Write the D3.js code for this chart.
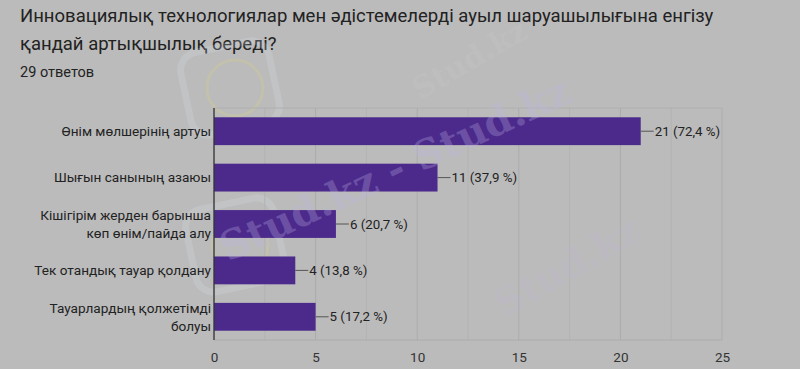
<!DOCTYPE html>
<html>
<head>
<meta charset="utf-8">
<script src="https://cdn.jsdelivr.net/npm/d3@7"></script>
<style>
  html, body { margin: 0; padding: 0; background: #bbbbbb; }
  svg { display: block; font-family: Roboto, "Noto Sans", sans-serif; }
</style>
</head>
<body>
<div class="chart"></div>
<script>
const titleLines = [
  'Инновациялық технологиялар мен әдістемелерді ауыл шаруашылығына енгізу',
  'қандай артықшылық береді?'
];
const responsesText = '29 ответов';

// categories (label lines) and counts
const categories = [
  ['Өнім мөлшерінің артуы'],
  ['Шығын санының азаюы'],
  ['Кішігірім жерден барынша', 'көп өнім/пайда алу'],
  ['Тек отандық тауар қолдану'],
  ['Тауарлардың қолжетімді', 'болуы']
];
const counts = [21, 11, 6, 4, 5];
const percents = ['72,4', '37,9', '20,7', '13,8', '17,2'];
const xTicks = [0, 5, 10, 15, 20, 25];

const width = 800;
const height = 369;
const margin = { top: 108, right: 78, bottom: 29, left: 214 };

const svg = d3
  .select('div.chart')
  .append('svg')
  .attr('width', width)
  .attr('height', height);

svg.append('rect').attr('width', width).attr('height', height).attr('fill', '#bbbbbb');

// title
svg
  .selectAll('text.title')
  .data(titleLines)
  .enter()
  .append('text')
  .attr('class', 'title')
  .attr('x', 20)
  .attr('y', (d, i) => 22 + i * 28)
  .attr('font-size', 18.5)
  .attr('fill', '#222')
  .text((d) => d);

svg
  .append('text')
  .attr('x', 20)
  .attr('y', 77)
  .attr('font-size', 14.5)
  .attr('fill', '#222')
  .text(responsesText);

const x = d3
  .scaleLinear()
  .domain([0, 25])
  .range([margin.left, width - margin.right]);

const y = d3
  .scaleBand()
  .domain(d3.range(categories.length))
  .range([margin.top, height - margin.bottom])
  .paddingInner(0.4)
  .paddingOuter(0.2);

// faint watermark (under the marks' text)
const wm = svg.append('g').attr('pointer-events', 'none');

// gridlines every 2.5
const grid = svg.append('g');
grid
  .selectAll('line')
  .data(d3.range(0, 25.01, 2.5))
  .enter()
  .append('line')
  .attr('x1', (d) => x(d))
  .attr('x2', (d) => x(d))
  .attr('y1', margin.top)
  .attr('y2', height - margin.bottom)
  .attr('stroke', (d) => (d % 5 === 0 ? '#acacac' : '#b3b3b3'))
  .attr('stroke-width', 1);

grid
  .append('line')
  .attr('x1', margin.left)
  .attr('x2', x(25))
  .attr('y1', margin.top)
  .attr('y2', margin.top)
  .attr('stroke', '#b0b0b0');
grid
  .append('line')
  .attr('x1', margin.left)
  .attr('x2', x(25))
  .attr('y1', height - margin.bottom)
  .attr('y2', height - margin.bottom)
  .attr('stroke', '#acacac');

// bars
svg
  .selectAll('rect.bar')
  .data(counts)
  .enter()
  .append('rect')
  .attr('class', 'bar')
  .attr('x', x(0))
  .attr('y', (d, i) => y(i))
  .attr('width', (d) => x(d) - x(0))
  .attr('height', y.bandwidth())
  .attr('fill', '#4b2a8b');

// leader lines and value labels
const labels = svg
  .selectAll('g.value')
  .data(counts)
  .enter()
  .append('g')
  .attr('class', 'value')
  .attr('transform', (d, i) => `translate(${x(d)},${y(i) + y.bandwidth() / 2})`);

labels
  .append('line')
  .attr('x1', 0)
  .attr('x2', 13)
  .attr('stroke', '#555')
  .attr('stroke-width', 1);

labels
  .append('text')
  .attr('x', 14)
  .attr('dy', '0.35em')
  .attr('font-size', 13.3)
  .attr('fill', '#222')
  .text((d, i) => `${d} (${percents[i]} %)`);

// category labels
const catLabels = svg
  .selectAll('text.cat')
  .data(categories)
  .enter()
  .append('text')
  .attr('class', 'cat')
  .attr('text-anchor', 'end')
  .attr('font-size', 13.6)
  .attr('fill', '#222')
  .attr('transform', (d, i) => `translate(${margin.left - 3},${y(i) + y.bandwidth() / 2})`);

catLabels
  .selectAll('tspan')
  .data((d) => d)
  .enter()
  .append('tspan')
  .attr('x', 0)
  .attr('y', (d, j, nodes) => (j - (nodes.length - 1) / 2) * 18)
  .attr('dy', '0.35em')
  .text((d) => d);

// x axis
const xAxis = svg
  .append('g')
  .attr('transform', `translate(0,${height - margin.bottom})`)
  .call(d3.axisBottom(x).tickValues(xTicks).tickSize(0).tickPadding(12));
xAxis.select('.domain').remove();
xAxis
  .selectAll('text')
  .attr('font-size', 13.5)
  .attr('font-family', 'Roboto, sans-serif')
  .attr('fill', '#333');

// zero baseline
svg
  .append('line')
  .attr('x1', x(0))
  .attr('x2', x(0))
  .attr('y1', margin.top)
  .attr('y2', height - margin.bottom)
  .attr('stroke', '#333')
  .attr('stroke-width', 1.3);

// watermark text over the bars, kept faint
const wmTop = svg.append('g').attr('pointer-events', 'none');
wmTop.append('text')
  .attr('transform', 'translate(228,262) rotate(-25)')
  .attr('font-family', '"DejaVu Serif", serif')
  .attr('font-weight', 'bold')
  .attr('font-size', 40)
  .attr('fill', '#c2b4e4')
  .attr('opacity', 0.28)
  .text('Stud.kz - Stud.kz');
wmTop.append('text')
  .attr('transform', 'translate(505,318) rotate(-30)')
  .attr('font-family', '"DejaVu Serif", serif')
  .attr('font-weight', 'bold')
  .attr('font-size', 38)
  .attr('fill', '#c2b4e4')
  .attr('opacity', 0.15)
  .text('Stud.kz');
wm.append('text')
  .attr('transform', 'translate(420,100) rotate(-30)')
  .attr('font-family', '"DejaVu Serif", serif')
  .attr('font-weight', 'bold')
  .attr('font-size', 30)
  .attr('fill', '#c8c8c8')
  .attr('opacity', 0.3)
  .text('Stud.kz');

[[230, 88], [235, 245]].forEach(([cx, cy]) => {
  wm.append('rect')
    .attr('x', cx - 45)
    .attr('y', cy - 42)
    .attr('width', 90)
    .attr('height', 84)
    .attr('rx', 18)
    .attr('transform', `rotate(-12,${cx},${cy})`)
    .attr('fill', 'none')
    .attr('stroke', '#d6e0e6')
    .attr('stroke-width', 7)
    .attr('opacity', 0.22);
  wm.append('circle')
    .attr('cx', cx + 5)
    .attr('cy', cy)
    .attr('r', 28)
    .attr('fill', 'none')
    .attr('stroke', '#d8cf8a')
    .attr('stroke-width', 3)
    .attr('opacity', 0.3);
});
</script>
</body>
</html>
